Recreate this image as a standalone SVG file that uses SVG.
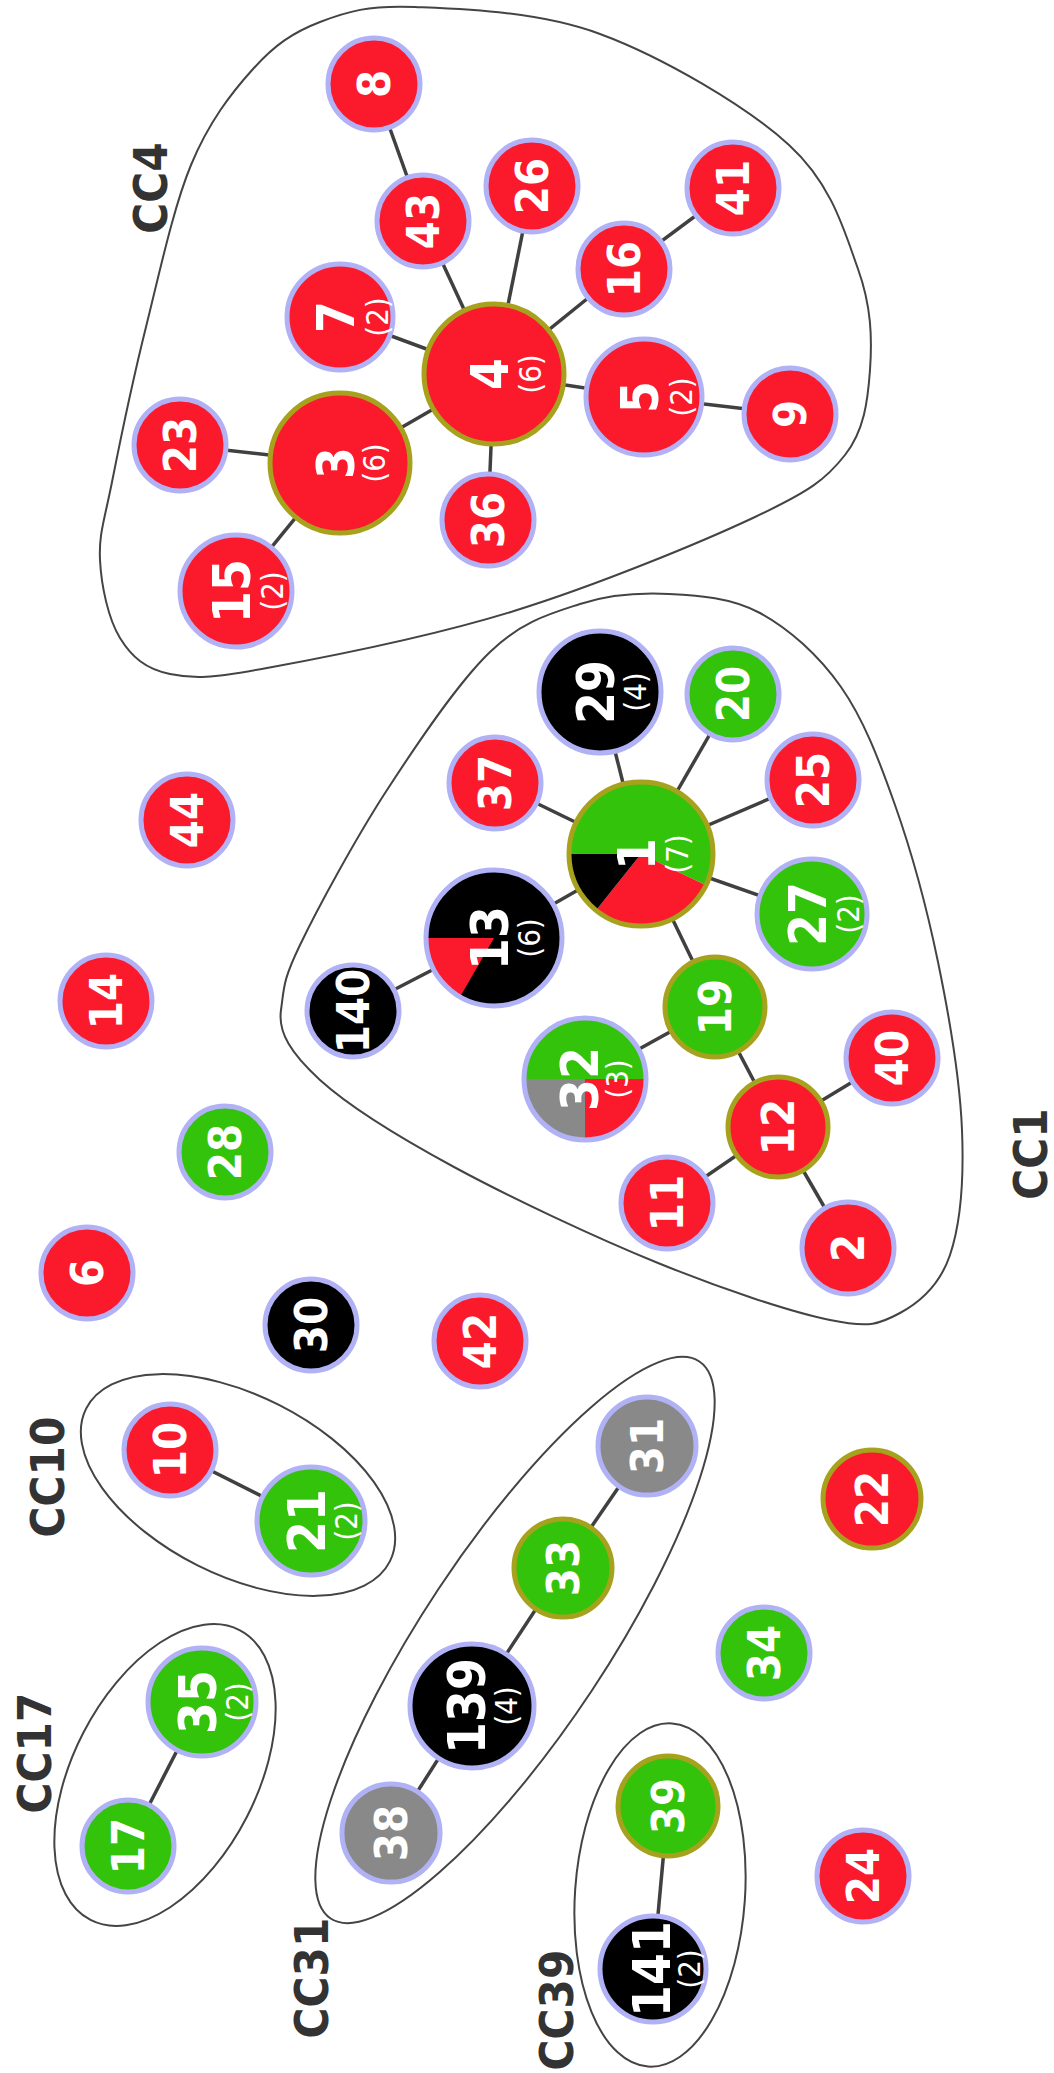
<svg xmlns="http://www.w3.org/2000/svg" width="1054" height="2073" viewBox="0 0 1054 2073">
<style>
.red{fill:#fb1a2c}.green{fill:#33c30b}.black{fill:#000}.gray{fill:#898989}
.glow{stroke:#b1b1f6;stroke-width:5}
.olive{stroke:#a7a21d;stroke-width:5}
.ring{fill:none}
.lbl{font-family:'DejaVu Sans Condensed','DejaVu Sans',sans-serif;font-stretch:condensed;font-weight:bold;font-size:45px;fill:#fff;text-anchor:middle}
.b{font-size:51px}
.cnt{font-family:'DejaVu Sans Condensed','DejaVu Sans',sans-serif;font-stretch:condensed;font-weight:normal;font-size:31px;fill:#fff;text-anchor:middle}
.cc{font-family:'DejaVu Sans Condensed','DejaVu Sans',sans-serif;font-stretch:condensed;font-weight:bold;font-size:47px;fill:#333;text-anchor:middle}
.hull{fill:none;stroke:#444;stroke-width:2}
.edge{stroke:#404040;stroke-width:3.5}
</style>
<rect width="1054" height="2073" fill="#fff"/>
<g id="hulls">
<path id="hull-CC4" class="hull" d="M415,7 C461.7,9 537.7,11 600,34 C662.3,57 746,105.8 789,145 C832,184.2 844.5,231.5 858,269 C871.5,306.5 872.2,339 870,370 C867.8,401 864.2,430.5 845,455 C825.8,479.5 810.2,491 755,517 C699.8,543 595.3,585.8 514,611 C432.7,636.2 324.3,657.5 267,668 C209.7,678.5 194.5,679 170,674 C145.5,669 131.7,657 120,638 C108.3,619 101.3,586 100,560 C98.7,534 104.3,520.8 112,482 C119.7,443.2 132.8,379.8 146,327 C159.2,274.2 173.2,208 191,165 C208.8,122 231.5,92.8 253,69 C274.5,45.2 293,32.3 320,22 C347,11.7 368.3,5 415,7 Z"/>
<path id="hull-CC1" class="hull" d="M669,594 C699,595.5 731.3,597.5 760,613 C788.7,628.5 818.5,655 841,687 C863.5,719 878.8,759.2 895,805 C911.2,850.8 926.8,907.8 938,962 C949.2,1016.2 960,1081.2 962,1130 C964,1178.8 960.3,1224.5 950,1255 C939.7,1285.5 920,1302.2 900,1313 C880,1323.8 870.3,1328.3 830,1320 C789.7,1311.7 720.7,1288.5 658,1263 C595.3,1237.5 510.3,1197.5 454,1167 C397.7,1136.5 348.8,1106.2 320,1080 C291.2,1053.8 277.7,1032.5 281,1010 C284.3,987.5 282.3,981.7 300,945 C317.7,908.3 355.3,838.8 387,790 C418.7,741.2 457.8,683 490,652 C522.2,621 550.2,613.7 580,604 C609.8,594.3 639,592.5 669,594 Z"/>
<ellipse id="hull-CC10" class="hull" cx="238" cy="1485" rx="170" ry="90" transform="rotate(26.7 238 1485)"/>
<ellipse id="hull-CC17" class="hull" cx="165" cy="1775" rx="163" ry="92" transform="rotate(117.2 165 1775)"/>
<ellipse id="hull-CC31" class="hull" cx="515" cy="1640" rx="334" ry="92" transform="rotate(123.5 515 1640)"/>
<ellipse id="hull-CC39" class="hull" cx="660" cy="1895" rx="172" ry="85" transform="rotate(94 660 1895)"/>
</g>
<g id="group-labels">
<text class="cc" transform="translate(150,188) rotate(-90)" y="17">CC4</text>
<text class="cc" transform="translate(1030,1154) rotate(-90)" y="17">CC1</text>
<text class="cc" transform="translate(47,1477) rotate(-90)" y="17">CC10</text>
<text class="cc" transform="translate(34,1753) rotate(-90)" y="17">CC17</text>
<text class="cc" transform="translate(311,1978) rotate(-90)" y="17">CC31</text>
<text class="cc" transform="translate(556,2010) rotate(-90)" y="17">CC39</text>
</g>
<g id="edges" class="edge">
<line x1="374" y1="84" x2="423" y2="221"/>
<line x1="423" y1="221" x2="494" y2="374"/>
<line x1="532" y1="186" x2="494" y2="374"/>
<line x1="624" y1="269" x2="494" y2="374"/>
<line x1="733" y1="188" x2="624" y2="269"/>
<line x1="340" y1="317" x2="494" y2="374"/>
<line x1="494" y1="374" x2="340" y2="463"/>
<line x1="494" y1="374" x2="644" y2="397"/>
<line x1="644" y1="397" x2="790" y2="414"/>
<line x1="494" y1="374" x2="488" y2="520"/>
<line x1="340" y1="463" x2="180" y2="445"/>
<line x1="340" y1="463" x2="236" y2="591"/>
<line x1="600" y1="692" x2="641" y2="854"/>
<line x1="733" y1="694" x2="641" y2="854"/>
<line x1="495" y1="783" x2="641" y2="854"/>
<line x1="813" y1="780" x2="641" y2="854"/>
<line x1="812" y1="914" x2="641" y2="854"/>
<line x1="494" y1="938" x2="641" y2="854"/>
<line x1="353" y1="1011" x2="494" y2="938"/>
<line x1="715" y1="1007" x2="641" y2="854"/>
<line x1="585" y1="1079" x2="715" y2="1007"/>
<line x1="778" y1="1127" x2="715" y2="1007"/>
<line x1="892" y1="1058" x2="778" y2="1127"/>
<line x1="667" y1="1203" x2="778" y2="1127"/>
<line x1="848" y1="1248" x2="778" y2="1127"/>
<line x1="170" y1="1450" x2="311" y2="1521"/>
<line x1="202" y1="1702" x2="128" y2="1846"/>
<line x1="647" y1="1446" x2="563" y2="1568"/>
<line x1="563" y1="1568" x2="472" y2="1706"/>
<line x1="472" y1="1706" x2="391" y2="1833"/>
<line x1="668" y1="1806" x2="653" y2="1969"/>
</g>
<g id="nodes">
<g id="n8"><circle class="red glow" cx="374" cy="84" r="46"/><text class="lbl" transform="translate(374,84) rotate(-90)" y="16.4">8</text></g>
<g id="n43"><circle class="red glow" cx="423" cy="221" r="46"/><text class="lbl" transform="translate(423,221) rotate(-90)" y="16.4">43</text></g>
<g id="n26"><circle class="red glow" cx="532" cy="186" r="46"/><text class="lbl" transform="translate(532,186) rotate(-90)" y="16.4">26</text></g>
<g id="n16"><circle class="red glow" cx="624" cy="269" r="46"/><text class="lbl" transform="translate(624,269) rotate(-90)" y="16.4">16</text></g>
<g id="n41"><circle class="red glow" cx="733" cy="188" r="46"/><text class="lbl" transform="translate(733,188) rotate(-90)" y="16.4">41</text></g>
<g id="n7"><circle class="red glow" cx="340" cy="317" r="53"/><text class="lbl b" transform="translate(335,317) rotate(-90)" y="18.6">7</text><text class="cnt" transform="translate(378,317) rotate(-90)" y="10">(2)</text></g>
<g id="n4"><circle class="red olive" cx="494" cy="374" r="70"/><text class="lbl b" transform="translate(489,374) rotate(-90)" y="18.6">4</text><text class="cnt" transform="translate(531,374) rotate(-90)" y="10">(6)</text></g>
<g id="n5"><circle class="red glow" cx="644" cy="397" r="58"/><text class="lbl b" transform="translate(639,397) rotate(-90)" y="18.6">5</text><text class="cnt" transform="translate(682,397) rotate(-90)" y="10">(2)</text></g>
<g id="n9"><circle class="red glow" cx="790" cy="414" r="46"/><text class="lbl" transform="translate(790,414) rotate(-90)" y="16.4">9</text></g>
<g id="n3"><circle class="red olive" cx="340" cy="463" r="70"/><text class="lbl b" transform="translate(335,463) rotate(-90)" y="18.6">3</text><text class="cnt" transform="translate(375,463) rotate(-90)" y="10">(6)</text></g>
<g id="n23"><circle class="red glow" cx="180" cy="445" r="46"/><text class="lbl" transform="translate(180,445) rotate(-90)" y="16.4">23</text></g>
<g id="n36"><circle class="red glow" cx="488" cy="520" r="46"/><text class="lbl" transform="translate(488,520) rotate(-90)" y="16.4">36</text></g>
<g id="n15"><circle class="red glow" cx="236" cy="591" r="56"/><text class="lbl b" transform="translate(231,591) rotate(-90)" y="18.6">15</text><text class="cnt" transform="translate(273,591) rotate(-90)" y="10">(2)</text></g>

<g id="n29"><circle class="black glow" cx="600" cy="692" r="61"/><text class="lbl b" transform="translate(595,692) rotate(-90)" y="18.6">29</text><text class="cnt" transform="translate(636,692) rotate(-90)" y="10">(4)</text></g>
<g id="n20"><circle class="green glow" cx="733" cy="694" r="46"/><text class="lbl" transform="translate(733,694) rotate(-90)" y="16.4">20</text></g>
<g id="n37"><circle class="red glow" cx="495" cy="783" r="46"/><text class="lbl" transform="translate(495,783) rotate(-90)" y="16.4">37</text></g>
<g id="n25"><circle class="red glow" cx="813" cy="780" r="46"/><text class="lbl" transform="translate(813,780) rotate(-90)" y="16.4">25</text></g>
<g id="n1">
<path class="green" d="M641,854 L569,854 A72,72 0 1,1 705.9,885.2 Z"/>
<path class="red" d="M641,854 L705.9,885.2 A72,72 0 0,1 596.1,910.3 Z"/>
<path class="black" d="M641,854 L596.1,910.3 A72,72 0 0,1 569,854 Z"/>
<circle class="ring olive" cx="641" cy="854" r="72"/>
<text class="lbl b" transform="translate(636,854) rotate(-90)" y="18.6">1</text><text class="cnt" transform="translate(678,854) rotate(-90)" y="10">(7)</text></g>
<g id="n13">
<circle class="black" cx="494" cy="938" r="68"/>
<path class="red" d="M494,938 L460,996.9 A68,68 0 0,1 426,938 Z"/>
<circle class="ring glow" cx="494" cy="938" r="68"/>
<text class="lbl b" transform="translate(489,938) rotate(-90)" y="18.6">13</text><text class="cnt" transform="translate(530,938) rotate(-90)" y="10">(6)</text></g>
<g id="n27"><circle class="green glow" cx="812" cy="914" r="55"/><text class="lbl b" transform="translate(807,914) rotate(-90)" y="18.6">27</text><text class="cnt" transform="translate(849,914) rotate(-90)" y="10">(2)</text></g>
<g id="n140"><circle class="black glow" cx="353" cy="1011" r="46"/><text class="lbl" transform="translate(353,1011) rotate(-90)" y="16.4">140</text></g>
<g id="n19"><circle class="green olive" cx="715" cy="1007" r="50"/><text class="lbl" transform="translate(715,1007) rotate(-90)" y="16.4">19</text></g>
<g id="n32">
<path class="green" d="M524,1079 A61,61 0 0,1 646,1079 Z"/>
<path class="red" d="M585,1079 L646,1079 A61,61 0 0,1 585,1140 Z"/>
<path class="gray" d="M585,1079 L585,1140 A61,61 0 0,1 524,1079 Z"/>
<circle class="ring glow" cx="585" cy="1079" r="61"/>
<text class="lbl b" transform="translate(579,1079) rotate(-90)" y="18.6">32</text><text class="cnt" transform="translate(618,1079) rotate(-90)" y="10">(3)</text></g>
<g id="n40"><circle class="red glow" cx="892" cy="1058" r="46"/><text class="lbl" transform="translate(892,1058) rotate(-90)" y="16.4">40</text></g>
<g id="n12"><circle class="red olive" cx="778" cy="1127" r="50"/><text class="lbl" transform="translate(778,1127) rotate(-90)" y="16.4">12</text></g>
<g id="n11"><circle class="red glow" cx="667" cy="1203" r="46"/><text class="lbl" transform="translate(667,1203) rotate(-90)" y="16.4">11</text></g>
<g id="n2"><circle class="red glow" cx="848" cy="1248" r="46"/><text class="lbl" transform="translate(848,1248) rotate(-90)" y="16.4">2</text></g>

<g id="n44"><circle class="red glow" cx="187" cy="820" r="46"/><text class="lbl" transform="translate(187,820) rotate(-90)" y="16.4">44</text></g>
<g id="n14"><circle class="red glow" cx="106" cy="1001" r="46"/><text class="lbl" transform="translate(106,1001) rotate(-90)" y="16.4">14</text></g>
<g id="n28"><circle class="green glow" cx="225" cy="1152" r="46"/><text class="lbl" transform="translate(225,1152) rotate(-90)" y="16.4">28</text></g>
<g id="n6"><circle class="red glow" cx="87" cy="1273" r="46"/><text class="lbl" transform="translate(87,1273) rotate(-90)" y="16.4">6</text></g>
<g id="n30"><circle class="black glow" cx="311" cy="1325" r="46"/><text class="lbl" transform="translate(311,1325) rotate(-90)" y="16.4">30</text></g>
<g id="n42"><circle class="red glow" cx="480" cy="1341" r="46"/><text class="lbl" transform="translate(480,1341) rotate(-90)" y="16.4">42</text></g>
<g id="n22"><circle class="red olive" cx="872" cy="1499" r="49"/><text class="lbl" transform="translate(872,1499) rotate(-90)" y="16.4">22</text></g>
<g id="n34"><circle class="green glow" cx="764" cy="1653" r="46"/><text class="lbl" transform="translate(764,1653) rotate(-90)" y="16.4">34</text></g>
<g id="n24"><circle class="red glow" cx="863" cy="1876" r="46"/><text class="lbl" transform="translate(863,1876) rotate(-90)" y="16.4">24</text></g>

<g id="n10"><circle class="red glow" cx="170" cy="1450" r="46"/><text class="lbl" transform="translate(170,1450) rotate(-90)" y="16.4">10</text></g>
<g id="n21"><circle class="green glow" cx="311" cy="1521" r="54"/><text class="lbl b" transform="translate(306,1521) rotate(-90)" y="18.6">21</text><text class="cnt" transform="translate(347,1521) rotate(-90)" y="10">(2)</text></g>
<g id="n35"><circle class="green glow" cx="202" cy="1702" r="54"/><text class="lbl b" transform="translate(197,1702) rotate(-90)" y="18.6">35</text><text class="cnt" transform="translate(238,1702) rotate(-90)" y="10">(2)</text></g>
<g id="n17"><circle class="green glow" cx="128" cy="1846" r="46"/><text class="lbl" transform="translate(128,1846) rotate(-90)" y="16.4">17</text></g>
<g id="n31"><circle class="gray glow" cx="647" cy="1446" r="49"/><text class="lbl" transform="translate(647,1446) rotate(-90)" y="16.4">31</text></g>
<g id="n33"><circle class="green olive" cx="563" cy="1568" r="49"/><text class="lbl" transform="translate(563,1568) rotate(-90)" y="16.4">33</text></g>
<g id="n139"><circle class="black glow" cx="472" cy="1706" r="62"/><text class="lbl b" transform="translate(466,1706) rotate(-90)" y="18.6">139</text><text class="cnt" transform="translate(507,1706) rotate(-90)" y="10">(4)</text></g>
<g id="n38"><circle class="gray glow" cx="391" cy="1833" r="49"/><text class="lbl" transform="translate(391,1833) rotate(-90)" y="16.4">38</text></g>
<g id="n39"><circle class="green olive" cx="668" cy="1806" r="50"/><text class="lbl" transform="translate(668,1806) rotate(-90)" y="16.4">39</text></g>
<g id="n141"><circle class="black glow" cx="653" cy="1969" r="53"/><text class="lbl b" transform="translate(651,1969) rotate(-90)" y="18.6">141</text><text class="cnt" transform="translate(690,1969) rotate(-90)" y="10">(2)</text></g>
</g>
</svg>
